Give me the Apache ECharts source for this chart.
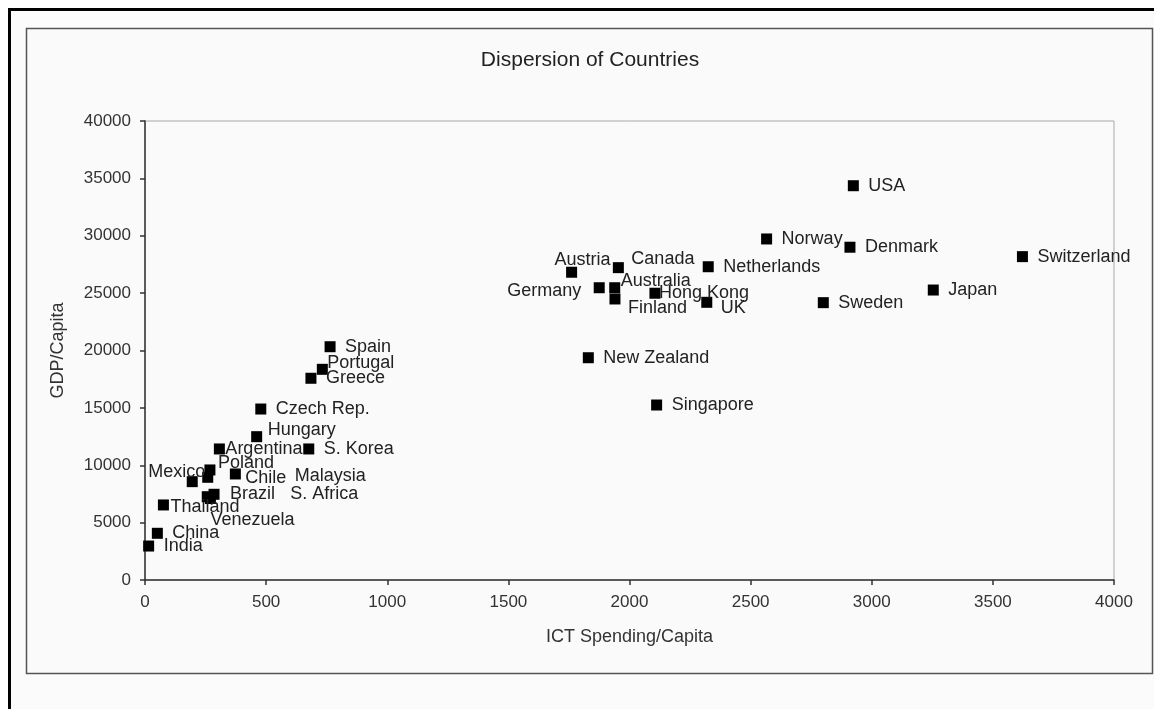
<!DOCTYPE html>
<html>
<head>
<meta charset="utf-8">
<title>Dispersion of Countries</title>
<script src="https://cdn.jsdelivr.net/npm/echarts@6/dist/echarts.min.js"></script>
<style>
  html, body { margin: 0; padding: 0; background: #ffffff; }
  #chart { width: 1154px; height: 709px; }
</style>
</head>
<body>
<div id="chart"></div>
<script>
// ICT spending per capita vs GDP per capita, one point per country
const countries = [
  'India', 'China', 'Thailand', 'Mexico', 'Poland', 'Malaysia', 'Chile',
  'Brazil', 'S. Africa', 'Venezuela', 'Argentina', 'Hungary', 'Czech Rep.',
  'S. Korea', 'Greece', 'Portugal', 'Spain', 'New Zealand', 'Singapore',
  'Austria', 'Canada', 'Germany', 'Australia', 'Finland', 'Hong Kong', 'UK',
  'Netherlands', 'Norway', 'Denmark', 'USA', 'Sweden', 'Japan', 'Switzerland'
];
const ictSpending = [
  15, 51, 76, 195, 268, 259, 373,
  285, 257, 270, 307, 461, 478,
  676, 685, 732, 764, 1830, 2112,
  1761, 1954, 1875, 1939, 1940, 2105, 2319,
  2325, 2566, 2910, 2924, 2800, 3254, 3622
];
const gdpPerCapita = [
  2960, 4070, 6540, 8570, 9590, 8950, 9240,
  7470, 7260, 7100, 11420, 12490, 14900,
  11420, 17580, 18360, 20330, 19370, 15250,
  26820, 27220, 25470, 25470, 24490, 24990, 24200,
  27300, 29720, 29000, 34360, 24170, 25270, 28180
];
const xTicks = { min: 0, max: 4000, step: 500 };
const yTicks = { min: 0, max: 40000, step: 5000 };

// hand-placed data labels (pixel nudges from the default right-hand placement)
const labelNudge = {
  'Portugal':  { dx: -10, dy: -6 },
  'Hungary':   { dx: -4,  dy: -7 },
  'Argentina': { dx: -9,  dy: 0 },
  'Poland':    { dx: -7,  dy: -7 },
  'Mexico':    { side: 'left', dx: 28, dy: -10 },
  'Chile':     { dx: -5,  dy: 4 },
  'Malaysia':  { dx: 72,  dy: -1 },
  'Brazil':    { dx: 1,   dy: 0 },
  'S. Africa': { dx: 68,  dy: -3 },
  'Venezuela': { dx: -15, dy: 22 },
  'Thailand':  { dx: -8,  dy: 2 },
  'Austria':   { dx: -32, dy: -12 },
  'Canada':    { dx: -2,  dy: -9 },
  'Germany':   { side: 'left', dx: -3, dy: 3 },
  'Australia': { dx: -9,  dy: -7 },
  'Finland':   { dx: -2,  dy: 9 },
  'Hong Kong': { dx: -11, dy: 0 },
  'UK':        { dx: -1,  dy: 6 }
};

const FONT = "'Liberation Sans', Arial, Helvetica, sans-serif";

const points = countries.map((name, i) => {
  const item = { name: name, value: [ictSpending[i], gdpPerCapita[i]] };
  const n = labelNudge[name];
  if (n && n.side) {
    item.label = { position: n.side };
  }
  return item;
});

const chart = echarts.init(document.getElementById('chart'), null, { renderer: 'canvas' });

chart.setOption({
  backgroundColor: '#ffffff',
  animation: false,
  textStyle: { fontFamily: FONT },
  graphic: [
    {
      type: 'rect', z: -20, silent: true,
      shape: { x: 9.5, y: 9.5, width: 1160, height: 720 },
      style: { fill: '#fbfbfb', stroke: '#000000', lineWidth: 3 }
    },
    {
      type: 'rect', z: -10, silent: true,
      shape: { x: 26.5, y: 28.5, width: 1126, height: 645 },
      style: { fill: '#fafafa', stroke: '#555555', lineWidth: 1.5 }
    }
  ],
  title: {
    text: 'Dispersion of Countries',
    left: 585,
    top: 45,
    textAlign: 'center',
    textStyle: { fontFamily: FONT, fontSize: 21, fontWeight: 'normal', color: '#222222' }
  },
  grid: {
    left: 145, right: 40, top: 121, bottom: 129,
    show: true,
    backgroundColor: 'transparent',
    borderColor: '#a8a8a8',
    borderWidth: 1
  },
  xAxis: {
    type: 'value',
    min: xTicks.min, max: xTicks.max, interval: xTicks.step,
    name: 'ICT Spending/Capita',
    nameLocation: 'middle',
    nameGap: 48,
    nameTextStyle: { fontFamily: FONT, fontSize: 18, color: '#333333' },
    axisLine: { show: true, lineStyle: { color: '#333333', width: 1.5 } },
    axisTick: { show: true, inside: false, length: 5, lineStyle: { color: '#333333', width: 1.5 } },
    axisLabel: { fontFamily: FONT, fontSize: 17, color: '#333333', margin: 14, formatter: v => String(v) },
    splitLine: { show: false }
  },
  yAxis: {
    type: 'value',
    min: yTicks.min, max: yTicks.max, interval: yTicks.step,
    name: 'GDP/Capita',
    nameLocation: 'middle',
    nameGap: 78,
    nameRotate: 90,
    nameTextStyle: { fontFamily: FONT, fontSize: 18, color: '#333333' },
    axisLine: { show: true, lineStyle: { color: '#333333', width: 1.5 } },
    axisTick: { show: true, inside: false, length: 5, lineStyle: { color: '#333333', width: 1.5 } },
    axisLabel: { fontFamily: FONT, fontSize: 17, color: '#333333', margin: 14, formatter: v => String(v) },
    splitLine: { show: false }
  },
  series: [
    {
      type: 'scatter',
      symbol: 'rect',
      symbolSize: 11,
      itemStyle: { color: '#000000', opacity: 1 },
      label: {
        show: true,
        position: 'right',
        distance: 9.5,
        formatter: '{b}',
        fontFamily: FONT,
        fontSize: 18,
        color: '#222222'
      },
      labelLayout: function (params) {
        const n = labelNudge[countries[params.dataIndex]];
        if (!n) return {};
        return { dx: n.dx, dy: n.dy, hideOverlap: false };
      },
      data: points
    }
  ]
});
</script>
</body>
</html>
